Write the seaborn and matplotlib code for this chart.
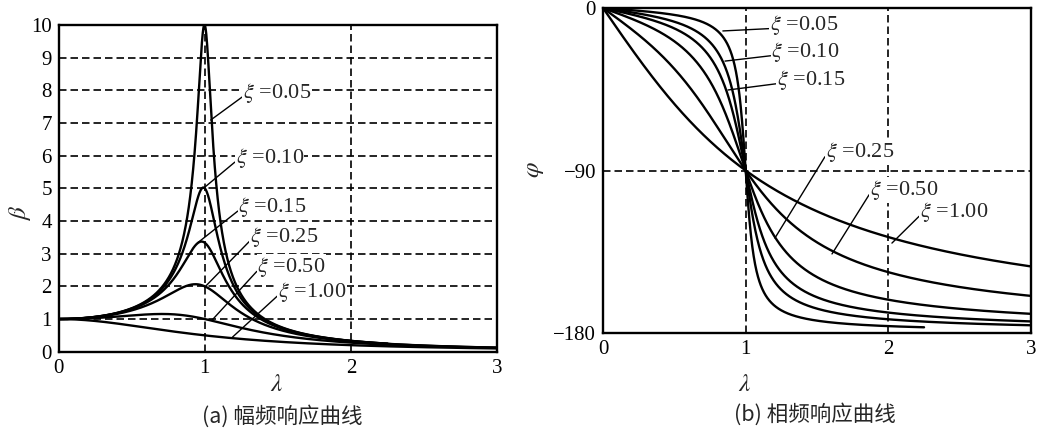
import numpy as np
import pandas as pd
import matplotlib
matplotlib.use('Agg')
import matplotlib.pyplot as plt
import seaborn as sns

# damping ratios
xi_values = [0.05, 0.10, 0.15, 0.25, 0.50, 1.00]
xi_labels = ['0.05', '0.10', '0.15', '0.25', '0.50', '1.00']
# where each drawn curve stops on the lambda axis
amp_end = [2.25, 2.25, 3.0, 3.0, 3.0, 3.0]
phase_end = [2.25, 3.0, 3.0, 3.0, 3.0, 3.0]

lam_ticks = [0, 1, 2, 3]
amp_ticks = list(range(0, 11))
phase_ticks = [0, -90, -180]

# label text position / leader tip (data coords)
amp_text = [(1.26, 7.92), (1.21, 5.93), (1.23, 4.43), (1.31, 3.51), (1.36, 2.59), (1.50, 1.83)]
amp_tip = [(1.04, 7.09), (0.99, 5.0), (0.95, 3.33), (1.0, 1.98), (1.05, 0.97), (1.19, 0.45)]
phase_text = [(1.17, -9.4), (1.18, -24.4), (1.22, -39.9), (1.56, -79.8), (1.87, -100.8), (2.22, -113.0)]
phase_tip = [(0.84, -12.7), (0.855, -29.4), (0.876, -45.4), (1.205, -127.4), (1.605, -136.2), (2.025, -130.2)]

"""Build response curves"""
frames = []
for xi, lab, e1, e2 in zip(xi_values, xi_labels, amp_end, phase_end):
    lam = np.linspace(0, 3, 1501)
    beta = 1 / np.sqrt((1 - lam ** 2) ** 2 + (2 * xi * lam) ** 2)
    phi = -np.degrees(np.arctan2(2 * xi * lam, 1 - lam ** 2))
    df = pd.DataFrame({'lam': lam, 'beta': beta, 'phi': phi, 'xi': lab})
    df.loc[df['lam'] > e1, 'beta'] = np.nan
    df.loc[df['lam'] > e2, 'phi'] = np.nan
    frames.append(df)
curves = pd.concat(frames, ignore_index=True)

sns.set_style('white')
plt.rcParams['font.family'] = ['Liberation Serif', 'Noto Sans CJK SC']
plt.rcParams['mathtext.fontset'] = 'stix'
plt.rcParams['axes.unicode_minus'] = True

fig = plt.figure(figsize=(10.44, 4.38), dpi=100)
ax1 = fig.add_axes([0.0562, 0.197, 0.420, 0.746])
ax2 = fig.add_axes([0.5776, 0.2397, 0.410, 0.742])

dash = (0, (4.5, 2.4))
grid_kw = dict(color='black', lw=1.2, linestyle=dash, zorder=1)

"""(a) amplitude"""
for b in amp_ticks[1:-1]:
    ax1.axhline(b, **grid_kw)
for l in lam_ticks[1:-1]:
    ax1.axvline(l, **grid_kw)
for lab in xi_labels:
    sub = curves[curves['xi'] == lab]
    sns.lineplot(data=sub, x='lam', y='beta', ax=ax1, color='black', lw=1.7,
                 estimator=None, sort=False, zorder=3)
ax1.set_xlim(0, 3)
ax1.set_ylim(0, 10)
ax1.set_xticks(lam_ticks)
ax1.set_yticks(amp_ticks)

"""(b) phase"""
ax2.axhline(-90, **grid_kw)
for l in lam_ticks[1:-1]:
    ax2.axvline(l, **grid_kw)
for lab in xi_labels:
    sub = curves[curves['xi'] == lab]
    sns.lineplot(data=sub, x='lam', y='phi', ax=ax2, color='black', lw=1.7,
                 estimator=None, sort=False, zorder=3)
ax2.set_xlim(0, 3)
ax2.set_ylim(-180, 0)
ax2.set_xticks(lam_ticks)
ax2.set_yticks(phase_ticks)

for ax, texts, tips in [(ax1, amp_text, amp_tip), (ax2, phase_text, phase_tip)]:
    ax.set_xlabel('')
    ax.set_ylabel('')
    if ax.get_legend():
        ax.get_legend().remove()
    ax.tick_params(length=0, labelsize=15, pad=5, colors='black')
    for s in ax.spines.values():
        s.set_color('black')
        s.set_linewidth(1.7)
        s.set_zorder(5)
    for lab, t, p in zip(xi_labels, texts, tips):
        ax.annotate(r'$\xi$ =' + lab, xy=p, xytext=t, fontsize=16, ha='left', va='center',
                    bbox=dict(facecolor='white', edgecolor='none', pad=0.5), zorder=4,
                    arrowprops=dict(arrowstyle='-', lw=1.0, color='black',
                                    shrinkA=0, shrinkB=0, relpos=(0.0, 0.35)))

"""Axis names and captions"""
fig.text(20 / 1044, 1 - 213 / 438, r'$\beta$', rotation=90, fontsize=18, ha='center', va='center')
fig.text(535 / 1044, 1 - 170 / 438, r'$\varphi$', rotation=90, fontsize=18, ha='center', va='center')
fig.text(277 / 1044, 1 - 385 / 438, r'$\lambda$', fontsize=18, ha='center', va='center')
fig.text(745 / 1044, 1 - 385 / 438, r'$\lambda$', fontsize=18, ha='center', va='center')
fig.text(282 / 1044, 1 - 416 / 438, '(a) 幅频响应曲线', fontsize=15.5, ha='center', va='center',
         family=['Noto Sans CJK SC', 'DejaVu Sans'])
fig.text(815 / 1044, 1 - 414 / 438, '(b) 相频响应曲线', fontsize=15.5, ha='center', va='center',
         family=['Noto Sans CJK SC', 'DejaVu Sans'])

plt.savefig('out.png', dpi=100)
